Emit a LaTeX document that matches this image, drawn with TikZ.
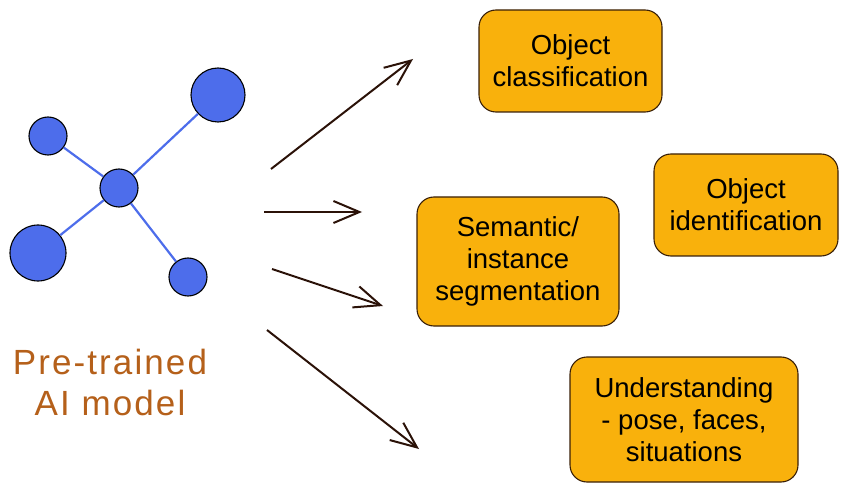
\documentclass[tikz,border=0pt]{standalone}
\usepackage{fontspec}
\setmainfont{Liberation Sans}
\newfontfamily\handfont[LetterSpace=6]{Liberation Sans}
\usetikzlibrary{arrows.meta}
\definecolor{boxfill}{HTML}{F9B10C}
\definecolor{boxline}{HTML}{3A2008}
\definecolor{dotblue}{HTML}{4D6DEB}
\definecolor{arrowc}{HTML}{2B1208}
\definecolor{handc}{HTML}{B5601A}
\tikzset{
  task/.style={draw=boxline, line width=1.1pt, fill=boxfill, rounded corners=17pt,
    align=center, inner sep=0pt, font=\fontsize{27.5}{32}\selectfont},
  dot/.style={circle, draw=black, line width=1.1pt, fill=dotblue, inner sep=0pt},
  link/.style={draw=dotblue, line width=2.2pt},
  flow/.style={draw=arrowc, line width=2pt, -{Straight Barb[length=26pt,width=22pt,line width=2pt]}},
}
\begin{document}
\begin{tikzpicture}[x=1pt,y=-1pt]
\useasboundingbox (0,0) rectangle (847,492);
% network
\node[dot, minimum size=38pt] (c) at (119,188) {};
\node[dot, minimum size=54pt] (tr) at (218,95) {};
\node[dot, minimum size=38pt] (tl) at (48,136) {};
\node[dot, minimum size=56pt] (bl) at (38,253) {};
\node[dot, minimum size=38pt] (br) at (188,277) {};
\path[link] (c) -- (tr);
\path[link] (c) -- (tl);
\path[link] (c) -- (bl);
\path[link] (c) -- (br);
% label
\node[text=handc, font=\handfont\fontsize{35}{41}\selectfont, align=center] (lbl) at (110,382) {Pre-trained\\AI model};
% boxes
\node[task, minimum width=183pt, minimum height=102pt] (b1) at (570.5,61) {Object\\classification};
\node[task, minimum width=184pt, minimum height=102pt] (b2) at (746,205) {Object\\identification};
\node[task, minimum width=202pt, minimum height=129pt] (b3) at (518,261.5) {Semantic/\\instance\\segmentation};
\node[task, minimum width=228pt, minimum height=125pt] (b4) at (684,419.5) {Understanding\\- pose, faces,\\situations};
% arrows
\coordinate (s1) at (271,169); \coordinate (e1) at (413,59);
\coordinate (s2) at (264,212); \coordinate (e2) at (362,212);
\coordinate (s3) at (272,269); \coordinate (e3) at (383,306);
\coordinate (s4) at (267,330); \coordinate (e4) at (419,449);
\draw[flow] (s1) -- (e1);
\draw[flow] (s2) -- (e2);
\draw[flow] (s3) -- (e3);
\draw[flow] (s4) -- (e4);
\end{tikzpicture}
\end{document}
